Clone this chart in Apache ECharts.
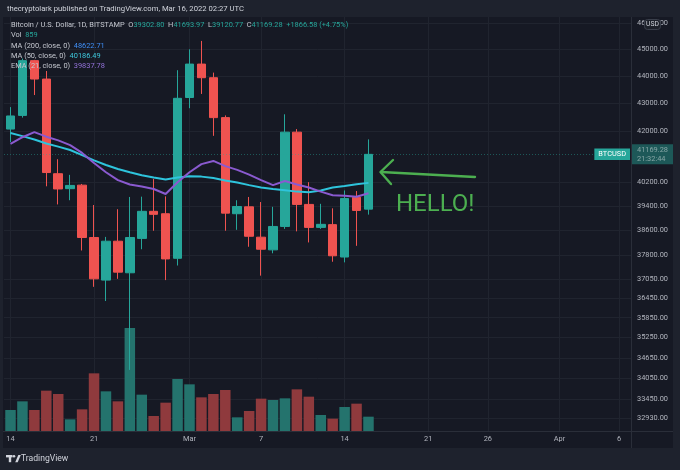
<!DOCTYPE html>
<html><head><meta charset="utf-8">
<script src="https://cdn.jsdelivr.net/npm/echarts@6/dist/echarts.min.js"></script>
<style>html,body{margin:0;padding:0;background:#161924}#c{width:680px;height:470px}</style>
</head><body><div id="c"></div>
<script>
// ---- data ----
const dates = ['Feb 14','Feb 15','Feb 16','Feb 17','Feb 18','Feb 19','Feb 20','Feb 21','Feb 22','Feb 23','Feb 24','Feb 25','Feb 26','Feb 27','Feb 28',
  'Mar 1','Mar 2','Mar 3','Mar 4','Mar 5','Mar 6','Mar 7','Mar 8','Mar 9','Mar 10','Mar 11','Mar 12','Mar 13','Mar 14','Mar 15','Mar 16'];
const openP  = [42060,42550,44570,43880,40500,39990,40110,38370,37010,38250,37240,38340,39230,39150,37700,43200,44440,43930,42470,39150,39380,38380,37970,38730,41950,39460,38700,38790,37740,39700,39302.80];
const closeP = [42530,44570,43880,40540,39980,40100,38370,37050,38250,37260,38370,39230,39130,37680,43170,44440,43930,42470,39170,39390,38410,37990,38730,41950,39460,38700,38800,37780,39660,39260,41169.28];
const lowP   = [41600,42470,43290,40070,39460,39600,37950,36800,36360,37050,34300,37990,38590,37010,37470,42810,43330,41820,38590,38620,38070,37150,37860,38650,38570,38210,38650,37590,37570,38100,39120.77];
const highP  = [42850,44650,44600,44180,41000,40460,40150,39440,38390,39300,39710,39720,40320,39730,44210,45000,45320,44120,42550,39600,39710,39540,39380,42590,42060,40210,39480,39330,39930,39910,41693.97];
const volume = [1260,1780,1260,2420,2220,700,1300,3460,2380,1780,6180,2180,900,1700,3120,2800,2020,2220,2460,820,1200,1940,1860,1960,2500,2060,960,740,1440,1640,859];
const ma50   = [41920,41810,41690,41550,41440,41320,41140,40960,40800,40660,40550,40450,40370,40300,40370,40410,40400,40350,40270,40200,40110,40030,39980,39940,39890,39870,39930,40030,40080,40140,40186.49];
const ema21  = [41540,41770,41950,41790,41660,41490,41220,40870,40550,40280,40130,40060,39980,39810,40210,40550,40830,40940,40760,40630,40470,40280,40110,40250,40130,40030,39890,39770,39750,39720,39837.78];
const xTickDays   = [0,7,15,21,28,35,40,46,51];
const xTickLabels = ['14','21','Mar','7','14','21','26','Apr','6'];
const yTickValues = [46000,45000,44000,43000,42000,40200,39400,38600,37800,37050,36450,35850,35250,34650,34050,33450,32930];
const lastClose = 41169.28, lastTime = '21:32:44';

// ---- styling ----
const FONT = 'Roboto';
const TEAL = '#26a69a', RED = '#ef5350';
const VOL_UP = '#24736d', VOL_DN = '#8f3a3d';
const GRIDC = '#20242f', FRAME = '#1e222d', TXT = '#c5c8d0', AX = '#b2b5be';
const XMIN = -0.545, XMAX = 52.0;
const FS = 7.4;

const chart = echarts.init(document.getElementById('c'), null, {renderer: 'canvas', width: 680, height: 470});

const candleData = dates.map((d, i) => [i, openP[i], closeP[i], lowP[i], highP[i]]);
const volData = dates.map((d, i) => [i, volume[i]]);
const maData = dates.map((d, i) => [i, ma50[i]]);
const emaData = dates.map((d, i) => [i, ema21[i]]);

const option = {
  backgroundColor: '#161924',
  animation: false,
  textStyle: {fontFamily: FONT},
  grid: [
    {left: 4, right: 49, top: 17, bottom: 39},
    {left: 4, right: 49, top: 301, bottom: 39}
  ],
  xAxis: [
    {type: 'value', gridIndex: 0, min: XMIN, max: XMAX,
      axisLine: {show: false}, axisTick: {show: false}, splitLine: {show: false},
      axisLabel: {customValues: xTickDays, color: AX, fontSize: FS, fontFamily: FONT, margin: 5,
        formatter: v => xTickLabels[xTickDays.indexOf(v)] || ''}},
    {type: 'value', gridIndex: 1, min: XMIN, max: XMAX, show: false}
  ],
  yAxis: [
    {type: 'log', gridIndex: 0, min: 32570, max: 46248, show: false, splitLine: {show: false}},
    {type: 'value', gridIndex: 1, min: 0, max: 7800, show: false, splitLine: {show: false}}
  ],
  series: [
    { // grid lines + price labels
      type: 'line', xAxisIndex: 0, yAxisIndex: 0, data: [], z: 0, silent: true,
      markLine: {
        z: 0, silent: true, symbol: ['none', 'none'], animation: false,
        lineStyle: {color: GRIDC, type: 'solid', width: 1},
        label: {show: false},
        data: [
          ...yTickValues.map(v => ({yAxis: v, label: {show: true, position: 'end', distance: 6, color: AX, fontSize: FS, fontFamily: FONT,
            formatter: p => Number(p.value).toFixed(2)}})),
          ...xTickDays.map(d => ({xAxis: d}))
        ]
      }
    },
    {
      type: 'bar', xAxisIndex: 1, yAxisIndex: 1, data: volData, barWidth: 10.5, z: 1, silent: true,
      itemStyle: {color: p => closeP[p.dataIndex] >= openP[p.dataIndex] ? VOL_UP : VOL_DN}
    },
    {
      type: 'candlestick', xAxisIndex: 0, yAxisIndex: 0, data: candleData, barWidth: 9, z: 3, silent: true,
      encode: {x: 0, y: [1, 2, 3, 4]},
      itemStyle: {color: TEAL, color0: RED, borderColor: TEAL, borderColor0: RED, borderWidth: 1},
      markLine: {
        z: 6, silent: true, symbol: ['none', 'none'], animation: false,
        lineStyle: {color: TEAL, opacity: 0.45, type: [1, 2], width: 1},
        data: [{yAxis: lastClose}],
        label: {show: true, position: 'end', distance: 0, formatter: lastClose.toFixed(2) + '\n' + lastTime,
          backgroundColor: TEAL, color: '#ffffff', fontSize: FS, fontFamily: FONT, lineHeight: 9,
          padding: [1, 5, 1, 6]}
      }
    },
    {
      type: 'line', xAxisIndex: 0, yAxisIndex: 0, data: maData, symbol: 'none', z: 4, silent: true,
      lineStyle: {color: '#2ec4dc', width: 2}
    },
    {
      type: 'line', xAxisIndex: 0, yAxisIndex: 0, data: emaData, symbol: 'none', z: 4, silent: true,
      lineStyle: {color: '#8a5ad0', width: 2}
    }
  ]
};
chart.setOption(option);

const yLast = chart.convertToPixel({yAxisIndex: 0}, lastClose);
const lg = (y, rich, txt) => ({type: 'text', x: 11, y: y, z: 50, silent: true,
  style: {text: txt, rich: rich, fontFamily: FONT, fontSize: FS, fill: TXT, verticalAlign: 'middle'}});
const rich = {
  g: {fill: TXT, fontSize: FS, fontFamily: FONT},
  t: {fill: TEAL, fontSize: FS, fontFamily: FONT},
  b: {fill: '#3f8ef5', fontSize: FS, fontFamily: FONT},
  c: {fill: '#3ec8dc', fontSize: FS, fontFamily: FONT},
  p: {fill: '#9272d8', fontSize: FS, fontFamily: FONT}
};
chart.setOption({
  graphic: [
    {type: 'rect', shape: {x: 0, y: 0, width: 680, height: 17}, style: {fill: FRAME}, z: 40, silent: true},
    {type: 'rect', shape: {x: 0, y: 448, width: 680, height: 22}, style: {fill: FRAME}, z: 40, silent: true},
    {type: 'rect', shape: {x: 0, y: 17, width: 3, height: 431}, style: {fill: FRAME}, z: 40, silent: true},
    {type: 'rect', shape: {x: 673, y: 17, width: 7, height: 431}, style: {fill: FRAME}, z: 40, silent: true},
    {type: 'line', shape: {x1: 631.5, y1: 17, x2: 631.5, y2: 448}, style: {stroke: '#2a2e39', lineWidth: 1}, z: 41, silent: true},
    {type: 'line', shape: {x1: 3, y1: 431.5, x2: 673, y2: 431.5}, style: {stroke: '#2a2e39', lineWidth: 1}, z: 41, silent: true},
    {type: 'text', x: 7, y: 9, z: 50, silent: true,
      style: {text: 'thecryptolark published on TradingView.com, Mar 16, 2022 02:27 UTC', fill: '#d1d4dc', fontSize: FS + 0.3, fontFamily: FONT, verticalAlign: 'middle'}},
    lg(25.5, rich, '{g|Bitcoin / U.S. Dollar, 1D, BITSTAMP  O}{t|39302.80}{g|  H}{t|41693.97}{g|  L}{t|39120.77}{g|  C}{t|41169.28}{t|  +1866.58 (+4.75%)}'),
    lg(35.5, rich, '{g|Vol  }{t|859}'),
    lg(46, rich, '{g|MA (200, close, 0)  }{b|48622.71}'),
    lg(56.5, rich, '{g|MA (50, close, 0)  }{c|40186.49}'),
    lg(66.5, rich, '{g|EMA (21, close, 0)  }{p|39837.78}'),
    // USD badge
    {type: 'rect', shape: {x: 644.5, y: 19.5, width: 16, height: 10, r: 3}, style: {fill: '#1c2029', stroke: '#3a3f4b', lineWidth: 1}, z: 60, silent: true},
    {type: 'text', x: 652.5, y: 24.8, z: 61, silent: true, style: {text: 'USD', fill: '#d1d4dc', fontSize: 6.8, fontFamily: FONT, align: 'center', verticalAlign: 'middle'}},
    // BTCUSD tag
    {type: 'text', x: 630, y: yLast, z: 60, silent: true,
      style: {text: 'BTCUSD', fill: '#ffffff', fontSize: FS, fontFamily: FONT, align: 'right', verticalAlign: 'middle',
        backgroundColor: TEAL, padding: [2.5, 4, 2, 4]}},
    // annotation
    {type: 'polyline', shape: {points: [[475, 177], [381, 172]]}, style: {stroke: '#4caf50', lineWidth: 2.4, lineCap: 'round'}, z: 60, silent: true},
    {type: 'polyline', shape: {points: [[393, 160], [380.5, 172], [391, 184]]}, style: {stroke: '#4caf50', lineWidth: 2.4, fill: null, lineCap: 'round', lineJoin: 'round'}, z: 60, silent: true},
    {type: 'text', x: 396, y: 205, z: 60, silent: true, style: {text: 'HELLO!', fill: '#4caf50', fontSize: 24, fontFamily: FONT, verticalAlign: 'middle'}},
    // TradingView footer logo
    {type: 'rect', shape: {x: 6, y: 455, width: 6.5, height: 2.4}, style: {fill: '#d1d4dc'}, z: 50, silent: true},
    {type: 'rect', shape: {x: 8.8, y: 455, width: 2.4, height: 7.2}, style: {fill: '#d1d4dc'}, z: 50, silent: true},
    {type: 'circle', shape: {cx: 14, cy: 456.3, r: 1.3}, style: {fill: '#d1d4dc'}, z: 50, silent: true},
    {type: 'polygon', shape: {points: [[15.2, 462.2], [18.3, 455], [20.8, 455], [17.7, 462.2]]}, style: {fill: '#d1d4dc'}, z: 50, silent: true},
    {type: 'text', x: 21, y: 458.8, z: 50, silent: true, style: {text: 'TradingView', fill: '#d1d4dc', fontSize: 8.6, fontFamily: FONT, verticalAlign: 'middle'}}
  ]
});
</script>
</body></html>
